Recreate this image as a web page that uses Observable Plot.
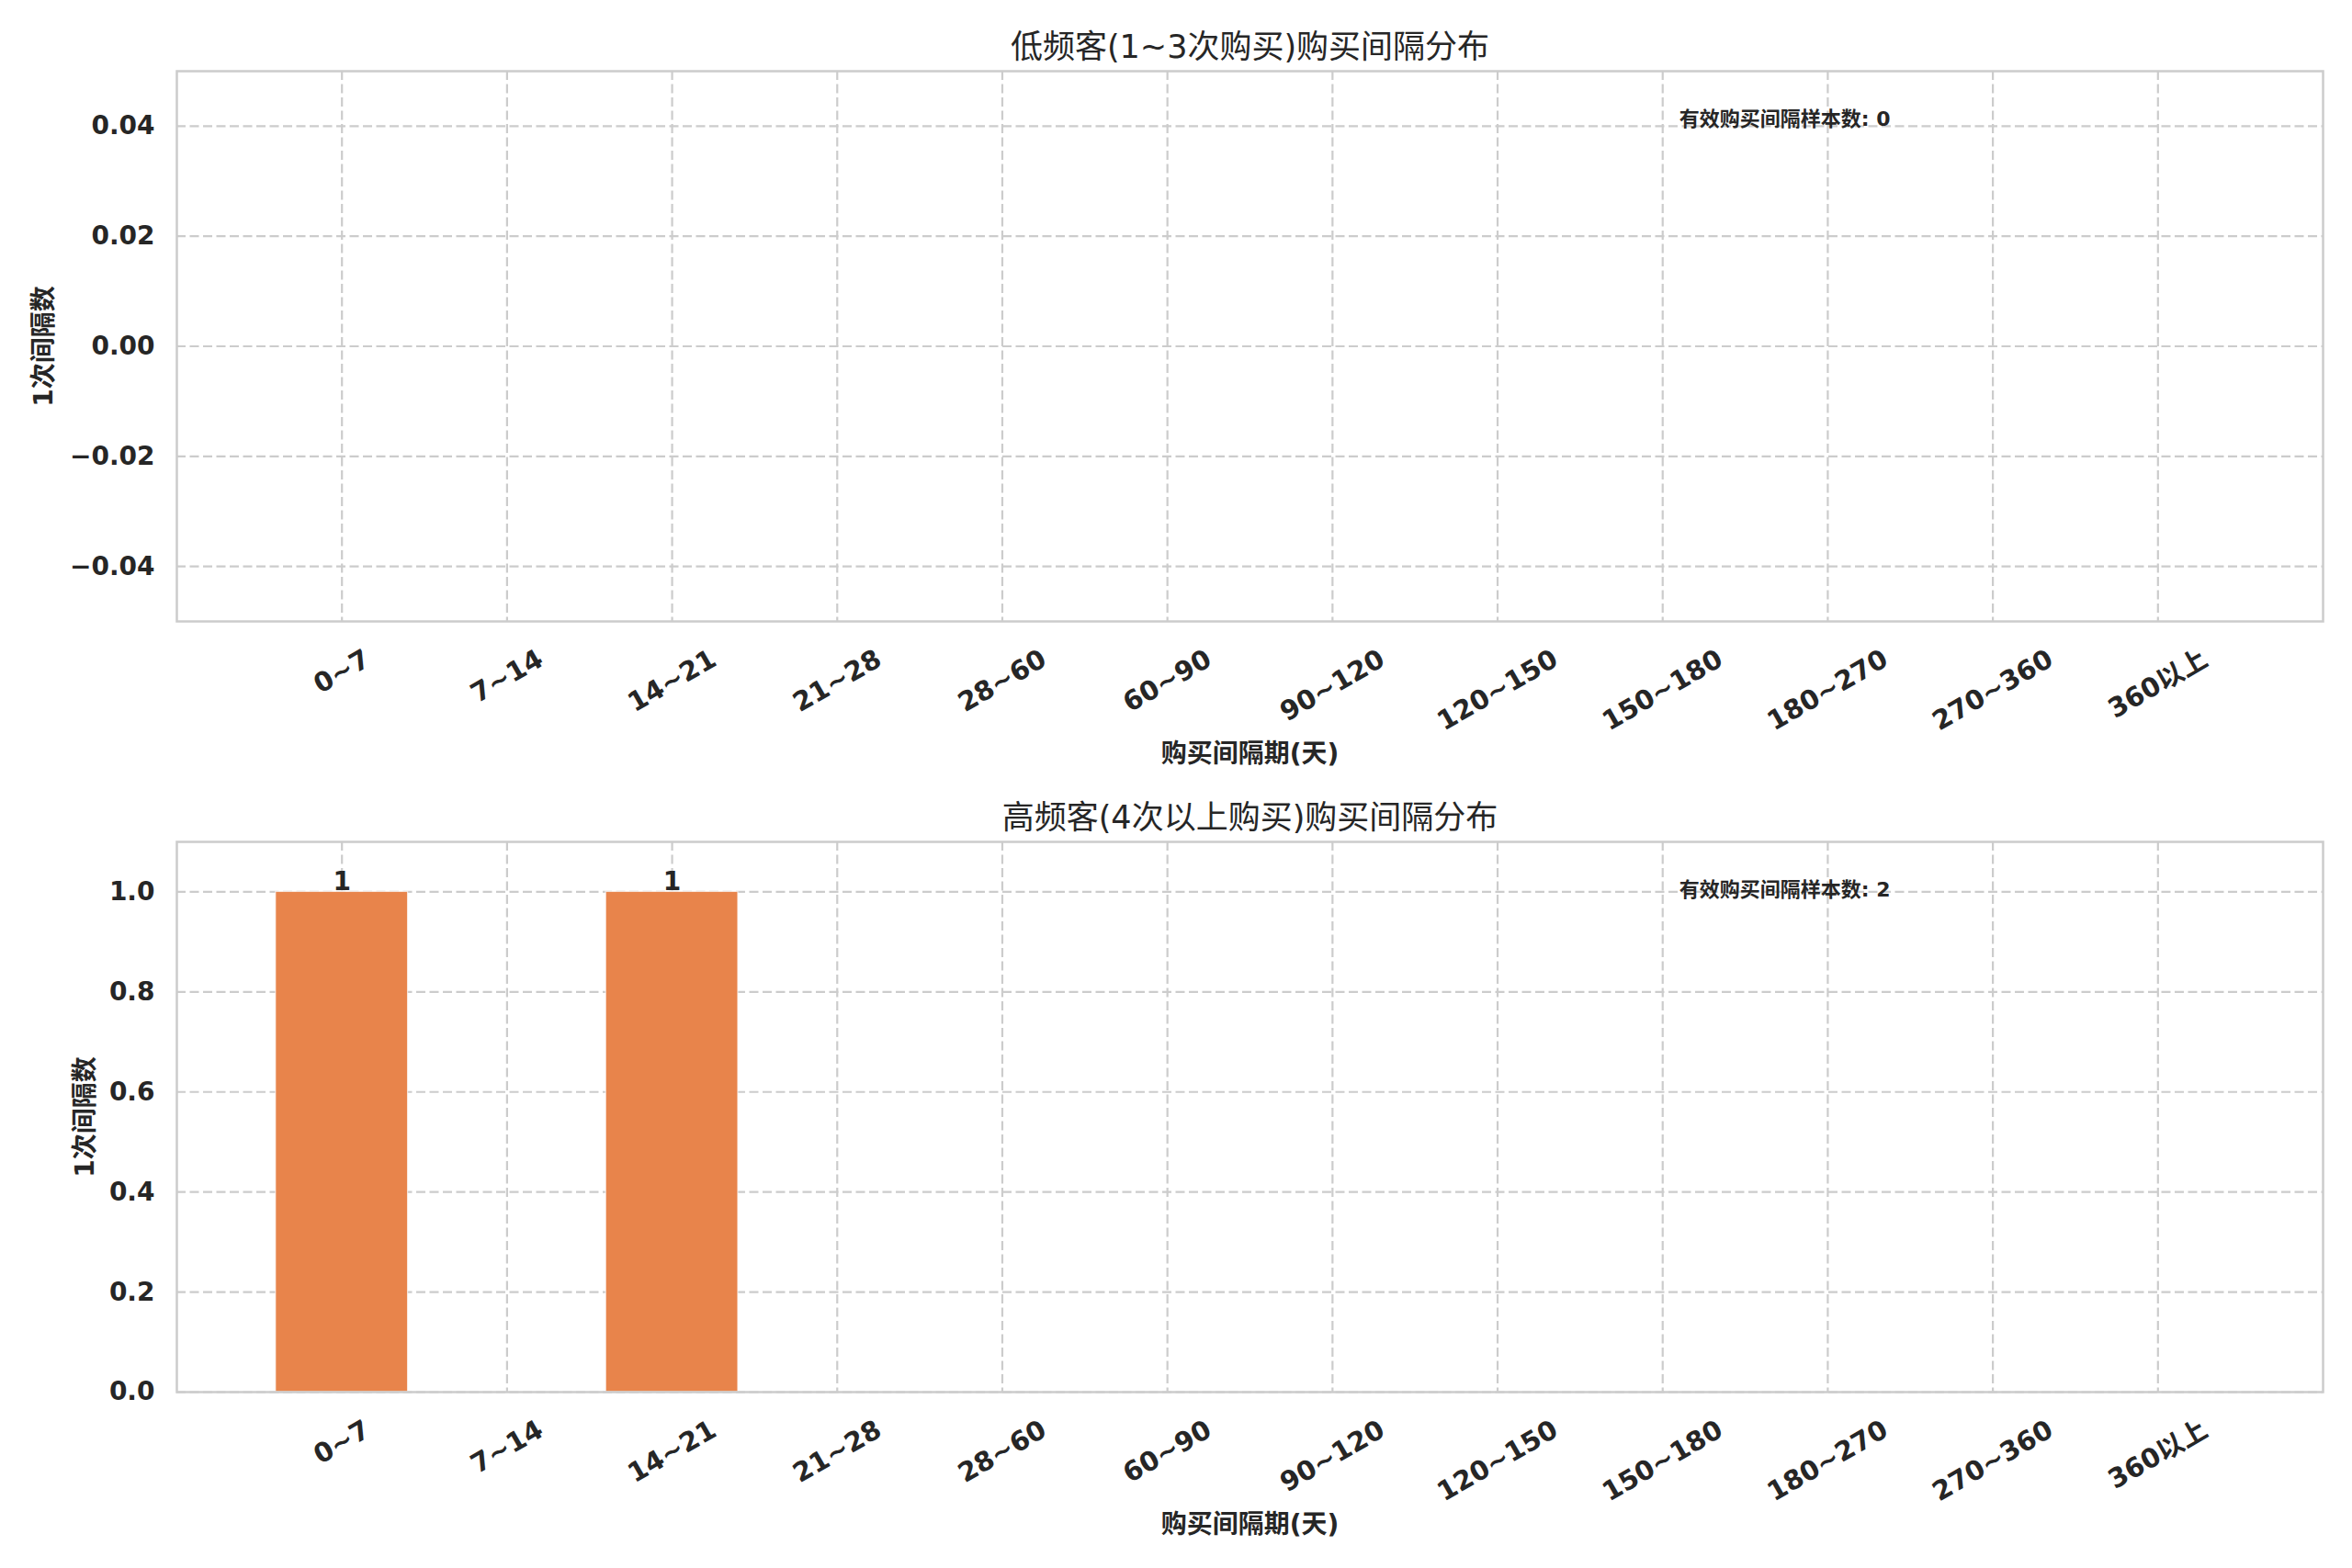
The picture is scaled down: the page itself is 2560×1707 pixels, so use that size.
<!DOCTYPE html>
<html>
<head>
<meta charset="utf-8">
<script src="https://cdn.jsdelivr.net/npm/d3@7"></script>
<script src="https://cdn.jsdelivr.net/npm/@observablehq/plot@0.6"></script>
<style>
  html, body { margin: 0; padding: 0; background: #ffffff; }
  #chart { width: 2560px; }
  #chart svg { display: block; }
</style>
</head>
<body>
<div id="chart"></div>
<script>
// ---- data ----
const categories = ["0~7", "7~14", "14~21", "21~28", "28~60", "60~90", "90~120", "120~150", "150~180", "180~270", "270~360", "360以上"];
const lowFreqCounts = [0, 0, 0, 0, 0, 0, 0, 0, 0, 0, 0, 0];
const highFreqCounts = [1, 0, 1, 0, 0, 0, 0, 0, 0, 0, 0, 0];
const lowTicks = [-0.04, -0.02, 0.00, 0.02, 0.04];
const highTicks = [0.0, 0.2, 0.4, 0.6, 0.8, 1.0];
const titles = ["低频客(1~3次购买)购买间隔分布", "高频客(4次以上购买)购买间隔分布"];
const xLabel = "购买间隔期(天)";
const yLabel = "1次间隔数";
const notePrefix = "有效购买间隔样本数";

const FONT = "'DejaVu Sans', 'Noto Sans CJK SC', sans-serif";
const INK = "#262626";
const GRID = "#cccccc";
const BAR = "#e8844b";
const W = 2560, ML = 192, MR = 32;
const frameW = W - ML - MR;
const TICK_FS = 29;

// approximate advance width (em) of a label in DejaVu Sans Bold / CJK
function emWidth(s) {
  let w = 0;
  for (const ch of s) {
    if (/[0-9]/.test(ch)) w += 0.696;
    else if (ch === "~") w += 0.838;
    else if (/[\u3000-\u9fff]/.test(ch)) w += 1.0;
    else w += 0.6;
  }
  return w;
}

// rotated (30°) center-aligned tick labels whose bounding-box top sits at a fixed pad below the frame
function tickLabelMarks() {
  const pad = 24;
  return categories.map(c => {
    const w = emWidth(c) * TICK_FS;
    const h = 1.17 * TICK_FS;
    const bboxH = 0.5 * w + 0.866 * h;
    return Plot.text([c], {
      x: d => d, frameAnchor: "bottom", dy: pad + bboxH / 2,
      rotate: -30, textAnchor: "middle", lineAnchor: "middle",
      text: d => d, fontSize: TICK_FS, fontWeight: "bold", fill: INK
    });
  });
}

function panel({counts, ticks, yDomain, fmt, title, height, mt, mb, ylabelDx, showLabels}) {
  const data = categories.map((c, i) => ({cat: c, v: counts[i]}));
  const total = d3.sum(counts);
  const frameH = height - mt - mb;
  return Plot.plot({
    width: W,
    height,
    marginLeft: ML,
    marginRight: MR,
    marginTop: mt,
    marginBottom: mb,
    style: {fontFamily: FONT, color: INK, background: "#ffffff", overflow: "visible"},
    x: {type: "band", domain: categories, paddingInner: 0.2, paddingOuter: 0.6, round: false, axis: null},
    y: {domain: yDomain, axis: null},
    marks: [
      Plot.gridY(ticks, {stroke: GRID, strokeOpacity: 1, strokeWidth: 2.2, strokeDasharray: "10,4.5"}),
      Plot.gridX(categories, {stroke: GRID, strokeOpacity: 1, strokeWidth: 2.2, strokeDasharray: "10,4.5"}),
      Plot.barY(data, {x: "cat", y: "v", fill: BAR, stroke: "#ffffff", strokeWidth: 1.2, strokeOpacity: 0.7}),
      showLabels ? Plot.text(data.filter(d => d.v > 0), {x: "cat", y: "v", text: d => String(d.v), lineAnchor: "bottom", dy: -2, fontSize: 28, fontWeight: "bold", fill: INK}) : null,
      Plot.frame({stroke: GRID, strokeWidth: 2.5}),
      Plot.axisY(ticks, {tickSize: 0, tickPadding: 24, tickFormat: d3.format(fmt), fontSize: 28, fontWeight: "bold", fill: INK, label: null}),
      ...tickLabelMarks(),
      Plot.text([xLabel], {frameAnchor: "bottom", dy: 145, lineAnchor: "middle", text: d => d, fontSize: 28, fontWeight: "bold", fill: INK}),
      Plot.text([yLabel], {frameAnchor: "left", dx: ylabelDx, rotate: -90, lineAnchor: "middle", textAnchor: "middle", text: d => d, fontSize: 28, fontWeight: "bold", fill: INK}),
      Plot.text([title], {frameAnchor: "top", dy: -15, lineAnchor: "bottom", text: d => d, fontSize: 35, fill: INK}),
      Plot.text([`${notePrefix}: ${total}`], {frameAnchor: "top-left", dx: frameW * 0.7, dy: frameH * 0.1, textAnchor: "start", lineAnchor: "bottom", text: d => d, fontSize: 22, fontWeight: "bold", fill: INK})
    ]
  });
}

const chart = document.getElementById("chart");
chart.appendChild(panel({counts: lowFreqCounts, ticks: lowTicks, yDomain: [-0.05, 0.05], fmt: ".2f", title: titles[0], height: 850, mt: 77, mb: 174, ylabelDx: -144, showLabels: false}));
chart.appendChild(panel({counts: highFreqCounts, ticks: highTicks, yDomain: [0, 1.1], fmt: ".1f", title: titles[1], height: 857, mt: 66, mb: 192, ylabelDx: -99, showLabels: true}));
</script>
</body>
</html>
